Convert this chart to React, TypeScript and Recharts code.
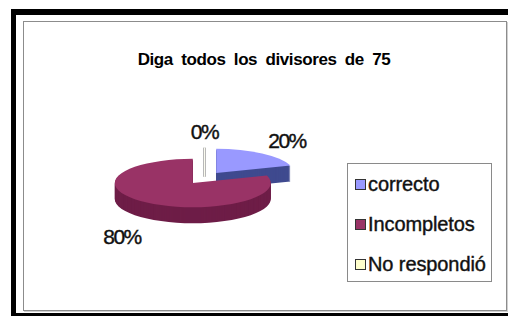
import React from 'react';
import { PieChart, Pie, Cell, Legend } from 'recharts';

const categories = ['correcto', 'Incompletos', 'No respondió'];
const values = [20, 80, 0];
const topColors = ['#9999FF', '#993366', '#FFFFCC'];
const sideColors = ['#3f4a8f', '#6e1d47', '#d8d8b0'];
const chartTitle = 'Diga todos los divisores de 75';

const data = categories.map((name, i) => ({ name, value: values[i] }));

const K = 0.31; // vertical squash of the 3D pie
const DEPTH = 16;
const EXPLODE = 20;
const RAD = Math.PI / 180;
const FONT = '"Liberation Sans", Arial, sans-serif';

function pt(cx: number, cy: number, r: number, a: number, k = K): [number, number] {
  return [cx + r * Math.cos(a * RAD), cy - r * k * Math.sin(a * RAD)];
}

function slicePath(cx: number, cy: number, r: number, start: number, end: number) {
  const [x1, y1] = pt(cx, cy, r, start);
  const [x2, y2] = pt(cx, cy, r, end);
  const large = Math.abs(start - end) > 180 ? 1 : 0;
  const sweep = end < start ? 1 : 0;
  return `M${cx},${cy}L${x1},${y1}A${r},${r * K} 0 ${large} ${sweep} ${x2},${y2}Z`;
}

function Slice3D(props: any) {
  const { cx, cy, outerRadius, startAngle, endAngle, midAngle, index, fill } = props;
  const ox = EXPLODE * Math.cos(midAngle * RAD);
  const oy = -EXPLODE * K * Math.sin(midAngle * RAD);
  const x = cx + ox;
  const y = cy + oy;
  if (Math.abs(startAngle - endAngle) < 0.01) {
    const [ex, ey] = pt(x, y, outerRadius, startAngle);
    return (
      <g>
        <line x1={x} y1={y + 5} x2={ex} y2={ey} stroke="#b8b8b8" strokeWidth={3} />
        <line x1={x} y1={y + 5} x2={ex} y2={ey} stroke="#fbfbf0" strokeWidth={1} />
      </g>
    );
  }
  const sides = [];
  for (let d = DEPTH; d >= 1; d--) {
    sides.push(
      <path key={d} d={slicePath(x, y + d, outerRadius, startAngle, endAngle)} fill={sideColors[index]} />
    );
  }
  return (
    <g>
      {sides}
      <path d={slicePath(x, y, outerRadius, startAngle, endAngle)} fill={fill} />
    </g>
  );
}

function renderLabel(props: any) {
  const { cx, cy, midAngle, outerRadius, percent } = props;
  const r = outerRadius * 1.8;
  const s = Math.sin(midAngle * RAD);
  const x = cx + r * Math.cos(midAngle * RAD);
  const y = cy - r * 0.33 * s + (s < -0.2 ? DEPTH + 5 : 0);
  return (
    <text x={x} y={y} textAnchor="middle" dominantBaseline="central" fill="#111" stroke="#111" strokeWidth={0.4}
      style={{ fontFamily: FONT, fontSize: 21, letterSpacing: -1.5 }}>
      {`${Math.round(percent * 100)}%`}
    </text>
  );
}

function renderLegend(props: any) {
  const { payload } = props;
  return (
    <div style={{ boxSizing: 'border-box', width: 145, height: 119, border: '1px solid #8a8a8a', background: '#fff' }}>
      {(payload || []).map((e: any, i: number) => (
        <div key={i} style={{ height: 40, display: 'flex', alignItems: 'center', paddingLeft: 7 }}>
          <span style={{ display: 'inline-block', boxSizing: 'border-box', width: 11, height: 11, background: e.color, border: '1px solid #333', marginRight: 2, flexShrink: 0 }} />
          <span style={{ fontFamily: FONT, fontSize: 20, letterSpacing: -0.1, color: '#111', whiteSpace: 'nowrap', WebkitTextStroke: '0.4px #111' }}>{e.value}</span>
        </div>
      ))}
    </div>
  );
}

export default function App() {
  return (
    <div style={{ position: 'absolute', left: 0, top: 0, width: 508, height: 318, background: '#fff', overflow: 'hidden' }}>
      <div style={{ position: 'absolute', left: 11, top: 9, width: 510, height: 307, boxSizing: 'border-box', borderLeft: '5px solid #000', borderTop: '6px solid #000', borderBottom: '3px solid #000' }} />
      <div style={{ position: 'absolute', left: 23, top: 21, width: 484, height: 290, boxSizing: 'border-box', border: '1px solid #8c8c8c', boxShadow: '1px 1px 0 #d0d0d0' }} />
      <div style={{ position: 'absolute', left: 64, width: 400, top: 50, textAlign: 'center', fontFamily: FONT, fontWeight: 'bold', fontSize: 17, letterSpacing: -0.4, wordSpacing: 4, color: '#000', whiteSpace: 'nowrap' }}>
        {chartTitle}
      </div>
      <div style={{ position: 'absolute', left: 0, top: 0 }}>
        <PieChart width={508} height={318} margin={{ top: 0, right: 0, bottom: 0, left: 0 }}>
          <Pie
            data={data}
            dataKey="value"
            nameKey="name"
            cx={204.5}
            cy={178}
            outerRadius={78}
            startAngle={90}
            endAngle={-270}
            isAnimationActive={false}
            shape={Slice3D}
            activeShape={Slice3D}
            inactiveShape={Slice3D}
            label={renderLabel}
            labelLine={false}
            stroke="none"
          >
            {data.map((d, i) => (
              <Cell key={d.name} fill={topColors[i]} />
            ))}
          </Pie>
          <Legend
            layout="vertical"
            align="right"
            verticalAlign="middle"
            itemSorter={null}
            content={renderLegend}
            wrapperStyle={{ left: 347, top: 163, width: 145, height: 119 }}
          />
        </PieChart>
      </div>
    </div>
  );
}
